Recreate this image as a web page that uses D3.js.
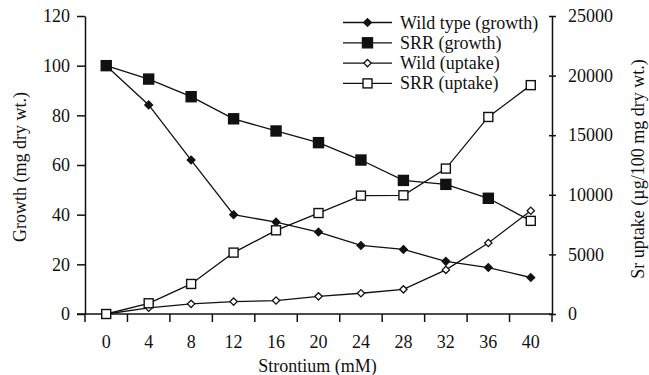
<!DOCTYPE html>
<html>
<head>
<meta charset="utf-8">
<script src="https://cdn.jsdelivr.net/npm/d3@7"></script>
<style>
  body { margin: 0; background: #fff; }
  svg text { font-family: 'Liberation Serif', 'DejaVu Serif', 'Times New Roman', serif; fill: #111; }
</style>
</head>
<body>
<div id="chart"></div>
<script>
// data
const strontium = [0, 4, 8, 12, 16, 20, 24, 28, 32, 36, 40];
const wildGrowth = [100, 84.2, 62, 40, 37, 33, 27.6, 26, 21.2, 18.7, 14.7];
const srrGrowth = [100, 94.6, 87.5, 78.6, 73.7, 69, 62, 53.8, 52.2, 46.6, 37.5];
const wildUptake = [0, 520, 850, 1040, 1130, 1480, 1740, 2070, 3700, 5960, 8660];
const srrUptake = [0, 900, 2520, 5150, 7020, 8470, 9930, 9960, 12200, 16530, 19200];
const leftTicks = [0, 20, 40, 60, 80, 100, 120];
const rightTicks = [0, 5000, 10000, 15000, 20000, 25000];
const legendLabels = ["Wild type (growth)", "SRR (growth)", "Wild (uptake)", "SRR (uptake)"];

const W = 649, H = 375;
const margin = { top: 16, right: 97, bottom: 61, left: 85 };
const FONT = "'Liberation Serif', 'DejaVu Serif', 'Times New Roman', serif";
const FS = "18px";

const svg = d3.select("#chart").append("svg")
    .attr("width", W).attr("height", H);

const x = d3.scaleBand()
    .domain(strontium)
    .range([margin.left, W - margin.right])
    .padding(0);
const cx = d => x(d) + x.bandwidth() / 2;

const yL = d3.scaleLinear().domain([0, 120]).range([H - margin.bottom, margin.top]);
const yR = d3.scaleLinear().domain([0, 25000]).range([H - margin.bottom, margin.top]);

// axes
svg.append("g")
    .attr("transform", `translate(${margin.left},0)`)
    .call(d3.axisLeft(yL).tickValues(leftTicks).tickSize(8).tickPadding(7).tickSizeOuter(0));

const gR = svg.append("g")
    .attr("transform", `translate(${W - margin.right},0)`)
    .call(d3.axisRight(yR).tickValues(rightTicks).tickFormat(d3.format("d"))
        .tickSize(4).tickPadding(12).tickSizeOuter(0));
gR.selectAll(".tick line").attr("x1", -3);

const gB = svg.append("g")
    .attr("transform", `translate(0,${H - margin.bottom})`)
    .call(d3.axisBottom(x).tickSize(0).tickPadding(21));
gB.select(".domain").remove();

// x tick marks between categories
const edges = strontium.map(d => x(d)).concat([W - margin.right]);
svg.append("g").selectAll("line")
    .data(edges)
    .join("line")
    .attr("x1", d => d).attr("x2", d => d)
    .attr("y1", H - margin.bottom).attr("y2", H - margin.bottom + 8)
    .attr("stroke", "#111").attr("stroke-width", 1.5);

svg.append("line")
    .attr("x1", margin.left - 8).attr("x2", W - margin.right)
    .attr("y1", yL(0)).attr("y2", yL(0))
    .attr("stroke", "#111").attr("stroke-width", 1.5);

svg.selectAll(".domain, .tick line").attr("stroke", "#111").attr("stroke-width", 1.5);
svg.selectAll("g").attr("font-family", FONT);
svg.selectAll(".tick text").attr("font-size", FS).attr("fill", "#111");

// axis titles
svg.append("text")
    .attr("transform", `translate(26,${(margin.top + H - margin.bottom) / 2 + 2}) rotate(-90)`)
    .attr("text-anchor", "middle").attr("font-size", FS)
    .text("Growth (mg dry wt.)");

svg.append("text")
    .attr("transform", `translate(644,${(margin.top + H - margin.bottom) / 2 + 4}) rotate(-90)`)
    .attr("text-anchor", "middle").attr("font-size", FS)
    .text("Sr uptake (µg/100 mg dry wt.)");

svg.append("text")
    .attr("x", (margin.left + W - margin.right) / 2 - 1).attr("y", 372)
    .attr("text-anchor", "middle").attr("font-size", FS)
    .text("Strontium (mM)");

// markers
const symDiamond = d3.symbol().type(d3.symbolDiamond2);
function marker(g, kind, filled, px, py) {
    if (kind === "square") {
        const s = filled ? 10 : 9;
        g.append("rect")
            .attr("x", px - s / 2).attr("y", py - s / 2)
            .attr("width", s).attr("height", s)
            .attr("fill", filled ? "#111" : "#fff")
            .attr("stroke", "#111").attr("stroke-width", 1.4);
    } else {
        g.append("path")
            .attr("d", symDiamond.size(filled ? 38 : 34)())
            .attr("transform", `translate(${px},${py})`)
            .attr("fill", filled ? "#111" : "#fff")
            .attr("stroke", "#111").attr("stroke-width", 1.3);
    }
}

const series = [
    { vals: wildGrowth, y: yL, kind: "diamond", filled: true },
    { vals: srrGrowth, y: yL, kind: "square", filled: true },
    { vals: wildUptake, y: yR, kind: "diamond", filled: false },
    { vals: srrUptake, y: yR, kind: "square", filled: false }
];

series.forEach(s => {
    const line = d3.line().x((d, i) => cx(strontium[i])).y(d => s.y(d));
    svg.append("path")
        .attr("d", line(s.vals))
        .attr("fill", "none").attr("stroke", "#111").attr("stroke-width", 1.3);
});
series.forEach(s => {
    const g = svg.append("g");
    s.vals.forEach((v, i) => {
        // the last SRR growth point is drawn hollow in the source figure
        const hollowEnd = s.vals === srrGrowth && i === s.vals.length - 1;
        marker(g, s.kind, s.filled && !hollowEnd, cx(strontium[i]), s.y(v));
    });
});

// legend
const leg = svg.append("g");
legendLabels.forEach((t, i) => {
    const ly = 22.5 + i * 20.3;
    leg.append("line").attr("x1", 343).attr("x2", 392)
        .attr("y1", ly).attr("y2", ly)
        .attr("stroke", "#111").attr("stroke-width", 1.3);
    marker(leg, series[i].kind, series[i].filled, 367.5, ly);
    leg.append("text").attr("x", 400).attr("y", ly + 6)
        .attr("font-size", FS).text(t);
});
</script>
</body>
</html>
